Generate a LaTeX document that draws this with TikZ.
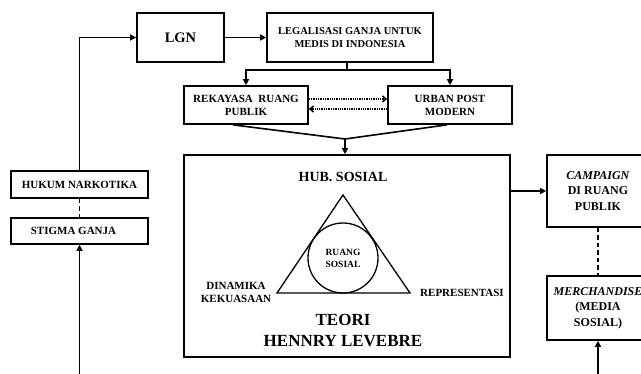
\documentclass[tikz,border=0pt]{standalone}
\usepackage{fontspec}
\setmainfont{Liberation Serif}
\usetikzlibrary{arrows.meta}
\begin{document}
\begin{tikzpicture}[x=1pt,y=-1pt,
  box/.style={draw, line width=1.7pt, inner sep=0pt, align=center, font=\bfseries\fontsize{11}{13}\selectfont},
  conn/.style={line width=1.6pt},
  arr/.style={conn, -{Triangle[length=6pt,width=6pt]}},
  dots/.style={line width=1.5pt, dash pattern=on 1.3pt off 1pt, -{Straight Barb[length=3.5pt,width=6pt]}},
  dsh/.style={line width=1.7pt, dash pattern=on 4.5pt off 3pt},
  lbl/.style={inner sep=0pt, align=center, font=\bfseries\fontsize{11}{13}\selectfont}]
\useasboundingbox (0,0) rectangle (641,374);
\clip (0,0) rectangle (641,374);

\node[box, minimum width=87pt, minimum height=49pt, font=\bfseries\fontsize{14.5}{16}\selectfont] (lgn) at (180.5,37.5) {LGN};
\node[box, minimum width=166pt, minimum height=49pt, font=\bfseries\fontsize{10.5}{12.5}\selectfont] (leg) at (350,37.5) {LEGALISASI GANJA UNTUK\\MEDIS DI INDONESIA};
\node[box, minimum width=124pt, minimum height=38pt] (rek) at (246,105) {REKAYASA\ \ RUANG\\PUBLIK};
\node[box, minimum width=124pt, minimum height=38pt] (urb) at (450,105) {URBAN POST\\MODERN};
\node[box, minimum width=137pt, minimum height=27pt] (huk) at (79.5,184.5) {HUKUM NARKOTIKA};
\node[box, minimum width=137pt, minimum height=26pt] (sti) at (79.5,231) {STIGMA GANJA\hspace*{12pt}};
\node[box, minimum width=326pt, minimum height=202pt] (theo) at (347,256) {};
\node[box, minimum width=102pt, minimum height=72pt, font=\bfseries\fontsize{12}{15.5}\selectfont] (camp) at (598,191) {\textit{CAMPAIGN}\\DI RUANG\\PUBLIK};
\node[box, minimum width=102pt, minimum height=64pt, font=\bfseries\fontsize{12}{15.5}\selectfont] (merch) at (598,308) {\textit{MERCHANDISE}\\(MEDIA\\SOSIAL)};

% left loop
\draw[arr] (huk.north) |- (lgn.west);
\draw[dsh] (huk.south) -- (sti.north);
\coordinate (bl) at (79.5,374);
\draw[arr] (bl) -- (sti.south);

% top
\draw[arr] (lgn.east) -- (leg.west);
\coordinate (jx) at (347,70);
\draw[conn] (leg.south -| jx) -- (jx);
\draw[arr] (jx) -| (rek.north);
\draw[arr] (jx) -| (urb.north);
\draw[dots] ([yshift=6pt]rek.east) -- ([yshift=6pt]urb.west);
\draw[dots] ([yshift=-4pt]urb.west) -- ([yshift=-4pt]rek.east);

% funnel
\coordinate (fun) at (345,139);
\draw[conn] ([xshift=-13pt]rek.south) -- (fun) -- ([xshift=-3pt]urb.south);
\draw[arr] (fun) -- (fun |- theo.north);

% right
\draw[arr] (camp.west -| theo.east) -- (camp.west);
\draw[dsh] (camp.south) -- (merch.north);
\coordinate (br) at (598,374);
\draw[arr] (br) -- (merch.south);

% theory contents
\node[lbl, font=\bfseries\fontsize{14}{16}\selectfont] (hub) at (343,177) {HUB. SOSIAL};
\coordinate (ta) at (343,195);
\coordinate (tb) at (277,293);
\coordinate (tc) at (410,293);
\draw[line width=1.3pt] (ta) -- (tb) -- (tc) -- cycle;
\node[draw, circle, line width=1.3pt, minimum size=70pt, inner sep=0pt, align=center, font=\bfseries\fontsize{9.5}{12}\selectfont] (rs) at (343,258) {RUANG\\SOSIAL};
\node[lbl] (din) at (236,292) {DINAMIKA\\KEKUASAAN};
\node[lbl] (rep) at (462,293) {REPRESENTASI};
\node[lbl, font=\bfseries\fontsize{17}{21}\selectfont] (teo) at (343,331) {TEORI\\HENNRY LEVEBRE};
\end{tikzpicture}
\end{document}
